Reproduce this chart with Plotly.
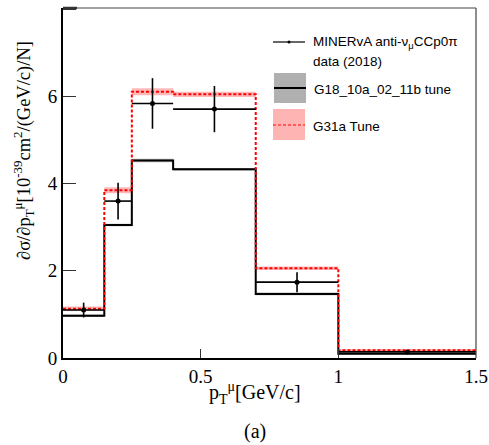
import plotly.graph_objects as go

# ---- data ----
bin_edges = [0.0, 0.15, 0.25, 0.4, 0.7, 1.0, 1.5]
data_values = [1.10, 3.60, 5.84, 5.71, 1.74, 0.14]
data_errors = [0.17, 0.42, 0.58, 0.53, 0.23, 0.03]
g18_values = [0.97, 3.05, 4.53, 4.33, 1.47, 0.10]
g18_band = [0.03, 0.03, 0.04, 0.03, 0.03, 0.02]
g31_values = [1.13, 3.85, 6.11, 6.05, 2.06, 0.18]
g31_band = [0.05, 0.07, 0.08, 0.06, 0.04, 0.02]
x_tick_vals = [0, 0.5, 1, 1.5]
x_tick_text = ["0", "0.5", "1", "1.5"]
y_tick_vals = [0, 2, 4, 6, 8]
y_tick_text = ["0", "2", "4", "6", ""]

centers = [(a + b) / 2 for a, b in zip(bin_edges[:-1], bin_edges[1:])]
half_w = [(b - a) / 2 for a, b in zip(bin_edges[:-1], bin_edges[1:])]


def steps(vals):
    return list(bin_edges), list(vals) + [vals[-1]]


fig = go.Figure()


def add_band(vals, errs, color):
    lo = [v - e for v, e in zip(vals, errs)]
    hi = [v + e for v, e in zip(vals, errs)]
    x, ylo = steps(lo)
    _, yhi = steps(hi)
    fig.add_trace(go.Scatter(x=x, y=ylo, mode="lines", line=dict(width=0, shape="hv"),
                             hoverinfo="skip", showlegend=False))
    fig.add_trace(go.Scatter(x=x, y=yhi, mode="lines", line=dict(width=0, shape="hv"),
                             fill="tonexty", fillcolor=color, hoverinfo="skip", showlegend=False))


add_band(g18_values, g18_band, "rgba(0,0,0,0.30)")
add_band(g31_values, g31_band, "rgba(255,0,0,0.28)")

x, y = steps(g18_values)
fig.add_trace(go.Scatter(x=x, y=y, mode="lines", line=dict(color="black", width=2, shape="hv"),
                         showlegend=False))
x, y = steps(g31_values)
fig.add_trace(go.Scatter(x=x, y=y, mode="lines",
                         line=dict(color="red", width=2, shape="hv", dash="3px,2px"),
                         showlegend=False))

fig.add_trace(go.Scatter(
    x=centers, y=data_values, mode="markers",
    marker=dict(color="black", size=5),
    error_x=dict(type="data", array=half_w, color="black", thickness=1.6, width=0),
    error_y=dict(type="data", array=data_errors, color="black", thickness=1.6, width=0),
    showlegend=False))

# ---- legend drawn manually (paper coords) ----
def px_x(p):
    return (p - 63) / 413


def px_y(p):
    return (358 - p) / 350


shapes = [
    dict(type="line", xref="paper", yref="paper", x0=px_x(273), x1=px_x(305), y0=px_y(42), y1=px_y(42),
         line=dict(color="black", width=1.2)),
    dict(type="circle", xref="paper", yref="paper",
         x0=px_x(287.5), x1=px_x(290.5), y0=px_y(43.5), y1=px_y(40.5),
         fillcolor="black", line=dict(width=0)),
    dict(type="rect", xref="paper", yref="paper", x0=px_x(274), x1=px_x(306), y0=px_y(103), y1=px_y(73),
         fillcolor="#b0b0b0", line=dict(width=0)),
    dict(type="line", xref="paper", yref="paper", x0=px_x(274), x1=px_x(306), y0=px_y(88), y1=px_y(88),
         line=dict(color="black", width=2)),
    dict(type="rect", xref="paper", yref="paper", x0=px_x(273), x1=px_x(305), y0=px_y(140), y1=px_y(109),
         fillcolor="#ffb4b4", line=dict(width=0)),
    dict(type="line", xref="paper", yref="paper", x0=px_x(273), x1=px_x(305), y0=px_y(125), y1=px_y(125),
         line=dict(color="red", width=1.2, dash="3px,2px")),
    # frame top / right
    dict(type="line", xref="paper", yref="paper", x0=0, x1=1, y0=1, y1=1, line=dict(color="#444", width=1.2)),
    dict(type="line", xref="paper", yref="paper", x0=1, x1=1, y0=0, y1=1, line=dict(color="#444", width=1.2)),
    # top y-tick at 8
    dict(type="line", xref="paper", yref="paper", x0=0, x1=px_x(77), y0=1, y1=1, line=dict(color="#333", width=2.5)),
]

leg_font = dict(family="Liberation Sans, Arial, sans-serif", size=13.5, color="black")
serif = "Liberation Serif, Times New Roman, serif"
annotations = [
    dict(xref="paper", yref="paper", x=px_x(311), y=px_y(42), xanchor="left", yanchor="middle",
         text="MINERvA anti-ν<sub>μ</sub>CCp0π", showarrow=False, font=leg_font),
    dict(xref="paper", yref="paper", x=px_x(311), y=px_y(62), xanchor="left", yanchor="middle",
         text="data (2018)", showarrow=False, font=leg_font),
    dict(xref="paper", yref="paper", x=px_x(312), y=px_y(89), xanchor="left", yanchor="middle",
         text="G18_10a_02_11b tune", showarrow=False, font=leg_font),
    dict(xref="paper", yref="paper", x=px_x(311), y=px_y(126), xanchor="left", yanchor="middle",
         text="G31a Tune", showarrow=False, font=leg_font),
    dict(xref="paper", yref="paper", x=px_x(255), y=px_y(393), xanchor="center", yanchor="middle",
         text="p<sub>T</sub><sup>μ</sup>[GeV/c]", showarrow=False,
         font=dict(family=serif, size=20, color="black")),
    dict(xref="paper", yref="paper", x=px_x(255), y=px_y(431), xanchor="center", yanchor="middle",
         text="(a)", showarrow=False,
         font=dict(family=serif, size=20, color="black")),
    dict(xref="paper", yref="paper", x=px_x(23), y=px_y(151), xanchor="center", yanchor="middle",
         text="∂σ/∂p<sub>T</sub><sup>μ</sup>[10<sup>-39</sup>cm<sup>2</sup>/(GeV/c)/N]",
         textangle=-90, showarrow=False,
         font=dict(family=serif, size=18.5, color="black")),
]

tick_font = dict(family=serif, size=19, color="black")
fig.update_layout(
    width=489, height=445,
    margin=dict(l=63, r=13, t=8, b=87, autoexpand=False),
    paper_bgcolor="white", plot_bgcolor="white",
    showlegend=False,
    shapes=shapes, annotations=annotations,
    xaxis=dict(range=[0, 1.5], tickvals=x_tick_vals, ticktext=x_tick_text, ticks="inside",
               ticklen=9, tickwidth=1.2, tickcolor="#333", showgrid=False, zeroline=False,
               showline=True, linecolor="black", linewidth=2, tickfont=tick_font, automargin=False),
    yaxis=dict(range=[0, 8.03], tickvals=y_tick_vals, ticktext=y_tick_text, ticks="inside",
               ticklen=13, tickwidth=1.2, tickcolor="#333", showgrid=False, zeroline=False,
               showline=True, linecolor="black", linewidth=2, tickfont=tick_font, automargin=False),
)

fig.write_html("out.html", config={"displayModeBar": False},
               post_script="document.body.style.margin='0';")
